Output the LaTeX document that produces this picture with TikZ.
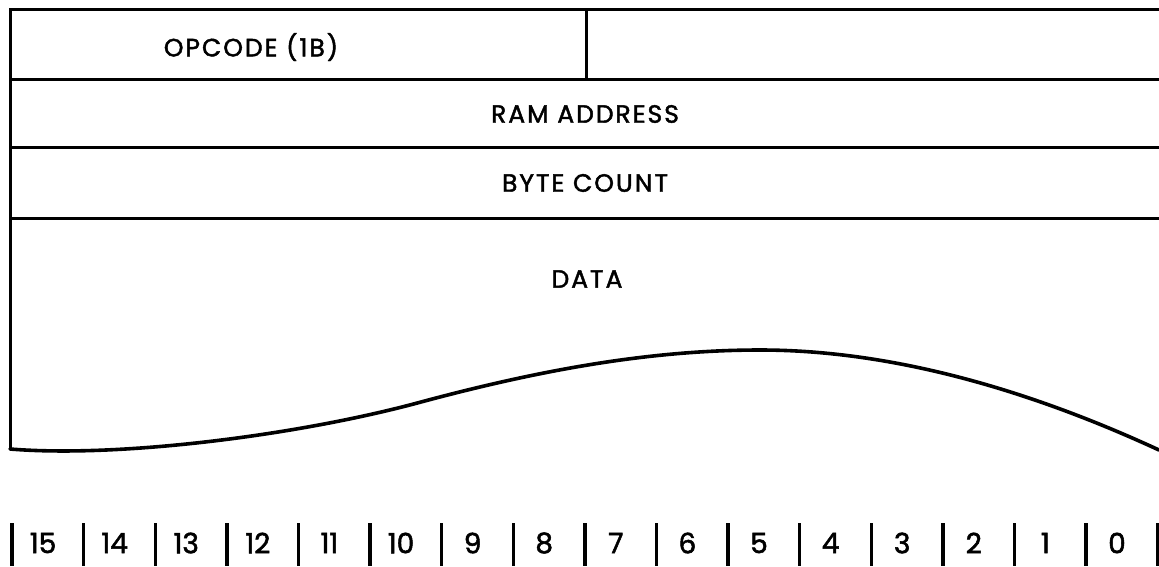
\documentclass[tikz,border=0pt]{standalone}
\usepackage{fontspec}
\setmainfont{Poppins}[FakeBold=1.8]
\newfontfamily\lblfont{Poppins}[FakeBold=1.8, LetterSpace=8]
\begin{document}
\begin{tikzpicture}[x=1pt,y=-1pt,
  rule/.style={line width=3pt, line join=miter},
  curveline/.style={line width=3.6pt, line cap=round},
  lbl/.style={font=\lblfont\fontsize{25}{25}\selectfont, inner sep=0pt, anchor=center},
  bitlbl/.style={font=\fontsize{28}{28}\selectfont, inner sep=0pt, anchor=center},
  bitbar/.style={line width=3.4pt}]
\useasboundingbox (0,0) rectangle (1159,566);
% frame
\draw[rule] (1159,9) -- (10,9) -- (10,449);
\draw[rule] (10,79) -- (1159,79);
\draw[rule] (10,147) -- (1159,147);
\draw[rule] (10,218) -- (1159,218);
\draw[rule] (586,9) -- (586,79);
% bottom wavy edge
\draw[curveline] (10,449) .. controls (120,458) and (300,435) .. (421,402)
  .. controls (540,370) and (650,350) .. (760,350)
  .. controls (900,350) and (1040,395) .. (1159,450);
% labels
\node[lbl] (opcode) at (251,47) {OPCODE (1B)};
\node[lbl] (ram) at (585,114) {RAM ADDRESS};
\node[lbl] (count) at (585,183) {BYTE COUNT};
\node[lbl] (data) at (587,279) {DATA};
% bit numbers
\foreach \i in {0,...,16} {
  \draw[bitbar] ({12+\i*71.6},523) -- ({12+\i*71.6},566);
}
\foreach \i [evaluate=\i as \b using int(15-\i)] in {0,...,15} {
  \node[bitlbl] (bit\b) at ({12+\i*71.6+31},543) {\b};
}
\end{tikzpicture}
\end{document}
